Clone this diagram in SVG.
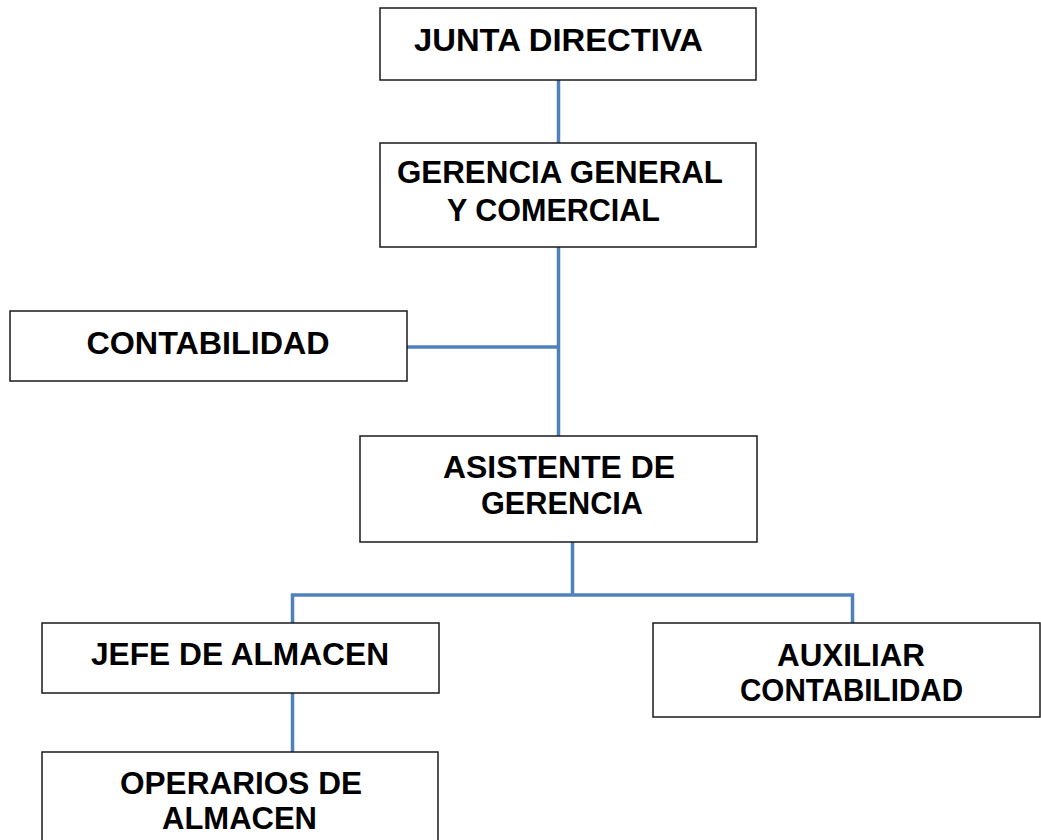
<svg xmlns="http://www.w3.org/2000/svg" width="1041" height="840" viewBox="0 0 1041 840">
<style>
.box{fill:#fff;stroke:#1a1a1a;stroke-width:1.5}
.t{font-family:"Liberation Sans",Arial,sans-serif;font-weight:bold;font-size:32px;fill:#000;text-anchor:middle}
.c{fill:none;stroke:#4F81BD;stroke-width:3.5}
</style>
<rect width="1041" height="840" fill="#fff"/>
<g id="connectors">
<path class="c" d="M558.5 80V143"/>
<path class="c" d="M558.5 247V436"/>
<path class="c" d="M407 347H558.5"/>
<path class="c" d="M572.5 542V595"/>
<path class="c" d="M292.5 623V595H852.5V623"/>
<path class="c" d="M292.5 693V752"/>
</g>
<g id="junta">
<rect class="box" x="380" y="8" width="376" height="72"/>
<text class="t" x="558.5" y="51" textLength="289" lengthAdjust="spacingAndGlyphs">JUNTA DIRECTIVA</text>
</g>
<g id="gerencia">
<rect class="box" x="380" y="143" width="376" height="104"/>
<text class="t" x="560" y="183" textLength="326" lengthAdjust="spacingAndGlyphs">GERENCIA GENERAL</text>
<text class="t" x="553.5" y="221" textLength="213" lengthAdjust="spacingAndGlyphs">Y COMERCIAL</text>
</g>
<g id="contabilidad">
<rect class="box" x="10" y="311" width="397" height="70"/>
<text class="t" x="208" y="354" textLength="243" lengthAdjust="spacingAndGlyphs">CONTABILIDAD</text>
</g>
<g id="asistente">
<rect class="box" x="360" y="436" width="397" height="106"/>
<text class="t" x="559" y="478" textLength="232" lengthAdjust="spacingAndGlyphs">ASISTENTE DE</text>
<text class="t" x="562" y="514" textLength="162" lengthAdjust="spacingAndGlyphs">GERENCIA</text>
</g>
<g id="jefe">
<rect class="box" x="42" y="623" width="397" height="70"/>
<text class="t" x="240" y="665" textLength="298" lengthAdjust="spacingAndGlyphs">JEFE DE ALMACEN</text>
</g>
<g id="auxiliar">
<rect class="box" x="653" y="623" width="387" height="94"/>
<text class="t" x="851" y="666" textLength="148" lengthAdjust="spacingAndGlyphs">AUXILIAR</text>
<text class="t" x="851.5" y="701" textLength="223" lengthAdjust="spacingAndGlyphs">CONTABILIDAD</text>
</g>
<g id="operarios">
<rect class="box" x="42" y="752" width="396" height="100"/>
<text class="t" x="241" y="794" textLength="242" lengthAdjust="spacingAndGlyphs">OPERARIOS DE</text>
<text class="t" x="239.5" y="829" textLength="155" lengthAdjust="spacingAndGlyphs">ALMACEN</text>
</g>
</svg>
